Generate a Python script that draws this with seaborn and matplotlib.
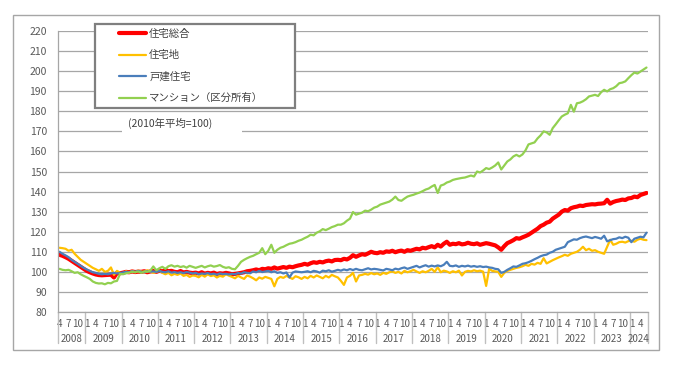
import numpy as np
import pandas as pd
import matplotlib
matplotlib.use('Agg')
import matplotlib.pyplot as plt
import matplotlib.transforms as mtransforms
from matplotlib.patches import Rectangle
from matplotlib.lines import Line2D
import seaborn as sns

# monthly index, Apr 2008 - Jun 2024 (2010 average = 100)
dates = pd.date_range('2008-04-01', '2024-06-01', freq='MS')

housing_total = [
    108.5, 108, 107.3, 106.5, 105.5, 104.5, 103.5, 102.5, 101.5,                    # 2008
    100.5, 99.8, 99.2, 98.7, 98.4, 98.3, 98.4, 98.5, 98.6, 97.2, 99.5, 99.3,        # 2009
    99.6, 100, 99.8, 100.2, 99.9, 100.1, 100, 100.3, 99.8, 100.2, 100.4, 100,       # 2010
    100.6, 100.2, 101, 100.3, 100.5, 100, 99.8, 100.4, 99.7, 100, 99.6, 99.4,       # 2011
    99.6, 99.2, 99.8, 99.1, 99.5, 99.2, 99.6, 98.9, 99.3, 99.1, 99.5, 99.2,         # 2012
    98.8, 99, 99.2, 99.5, 99.8, 100.3, 100.5, 100.8, 101.2, 100.8, 101.5, 101.3,    # 2013
    101.8, 101.5, 102.2, 101.6, 102, 102.4, 102, 102.6, 102.3, 102.8, 103.2, 103.5, # 2014
    104, 103.6, 104.3, 104.8, 104.5, 105, 104.7, 105.3, 105.6, 105.2, 105.9, 106,   # 2015
    105.8, 106.5, 106.2, 107, 108.3, 107.5, 108.2, 108.8, 108.5, 109.2, 110, 109.5, # 2016
    109.3, 109.8, 109.5, 110.2, 110, 110.5, 109.8, 110.3, 110.6, 110, 110.8, 110.5, # 2017
    111, 111.5, 111.2, 112, 111.7, 112.3, 112.8, 112.2, 113.5, 112.6, 114, 115,     # 2018
    113.5, 114, 113.8, 114.3, 113.7, 113.9, 114.5, 114, 113.8, 114.2, 113.5, 113.9, # 2019
    114.3, 114, 113.6, 113.2, 112.2, 111, 112.8, 114.3, 115, 115.8, 116.8, 116.5,   # 2020
    117.2, 117.8, 118.5, 119.5, 120.5, 121.5, 122.8, 123.5, 124.5, 125, 126.5, 127.5, # 2021
    128.5, 130, 130.8, 130.5, 131.7, 132.2, 132.5, 133, 132.8, 133.3, 133.5, 133.7, # 2022
    133.6, 133.9, 134, 134.2, 135.9, 134, 134.8, 135.3, 135.6, 136, 135.8, 136.6,   # 2023
    136.8, 137.5, 137.2, 138.3, 138.8, 139.3,                                       # 2024
]

residential_land = [
    112, 111.8, 111.5, 110.5, 111, 109, 107.5, 106, 105,
    104, 103, 102, 101.3, 100.5, 101.5, 100, 100.5, 102.2, 98.5, 100.5, 99.5,
    99.2, 100.3, 99.5, 100.5, 99.8, 100.6, 100.2, 99.6, 100.8, 100.1, 99.5, 100,
    100.6, 99.5, 98.8, 99.5, 98.3, 99, 98.5, 99.2, 98, 98.5, 97.5, 98.2,
    98, 97.3, 98.5, 97.6, 98.8, 97.9, 98.3, 97.2, 98, 97.6, 98.8, 98.1,
    97.5, 96.8, 98, 97.2, 96.5, 98.2, 97.6, 96.8, 95.8, 97.2, 96.6, 97.5,
    97, 96.5, 92.8, 96.5, 97.5, 97, 98, 97.2, 96.5, 97.8, 97.3, 96.5,
    97.5, 96.8, 98, 97.2, 98.2, 97.5, 96.8, 98, 97.2, 98.5, 97.8, 97.2,
    95.5, 93.5, 97.2, 98, 99.5, 95.2, 98.2, 98.5, 99, 98.6, 99.4, 98.8,
    99.2, 98.5, 99.5, 99, 99.8, 100.2, 99.5, 100, 99.2, 100.5, 99.8, 100.3,
    101, 100.2, 99.5, 100.3, 99.8, 100.5, 101.5, 100, 102.3, 99.8, 100.6, 100.2,
    99.5, 100.3, 99.8, 100.6, 98.2, 100, 100.5, 100.2, 100.8, 100.3, 100.6, 100.1,
    93, 101.5, 100.5, 100.2, 100, 97.5, 99.5, 100.5, 101, 101.5, 102, 102.3,
    102.8, 103.5, 103, 104, 103.6, 104.5, 104, 106.8, 104.2, 105, 105.8, 106.5,
    107.2, 107.8, 108.5, 108, 109, 109.5, 110, 111, 112.5, 110.8, 111.5, 110.5,
    110.8, 110, 109.5, 109, 112.5, 116, 113.5, 114, 114.8, 115, 114.6, 115.3,
    115.5, 115, 116, 116.5, 116, 115.8,
]

detached_house = [
    110, 109, 108.2, 107.3, 106, 105, 104, 103, 102,
    101.2, 100.5, 99.8, 99.5, 99, 98.8, 99, 98.8, 99.2, 99.5, 99.2, 99.4,
    99.7, 100, 99.8, 100.3, 100, 100.5, 100, 99.8, 100.3, 100.1, 100.2, 100,
    100.4, 100, 99.8, 100.3, 99.6, 99.9, 99.5, 99.8, 99.4, 99.9, 99.6, 99.2,
    99.5, 98.8, 99.2, 99, 99.4, 98.8, 99.1, 98.6, 99.2, 98.9, 99, 98.7,
    99, 98.8, 99.4, 99.1, 99.8, 99.5, 99.3, 100.2, 99.8, 100.5, 99.9, 100.2,
    100.5, 99.8, 100.3, 99.5, 99.8, 99.2, 99.7, 97.2, 99.6, 100.2, 100, 99.8,
    100, 100.3, 99.8, 100.5, 100.2, 99.6, 100.6, 100.3, 100.8, 100.1, 100.5, 101,
    100.6, 101.2, 100.8, 101.4, 100.9, 101.5, 101, 100.8, 101.3, 101.8, 101.2, 101.5,
    101.3, 101, 100.7, 101.5, 101.2, 100.8, 101.6, 101.2, 101.8, 102.2, 101.5, 102,
    102.5, 103, 102.2, 102.8, 103.3, 102.6, 103.1, 102.7, 103.2, 102.8, 103.5, 105,
    103, 102.8, 103.2, 102.5, 103, 102.7, 103.1, 102.6, 102.9, 102.5, 102.8, 102.4,
    102.6, 102.2, 102, 101.5, 101.3, 99.5, 100, 101, 101.8, 102.7, 102.5, 103.2,
    104, 104.3, 104.8, 105.5, 106.3, 107, 107.8, 108.3, 108.6, 109.5, 110, 111,
    111.5, 112, 112.5, 114.8, 115.5, 116.2, 116, 116.8, 117.3, 117.6, 117.2, 116.8,
    117.4, 117, 116.5, 118, 115.2, 115.8, 116.3, 116.5, 117.2, 116.8, 117.5, 117,
    114.8, 116.5, 117, 117.5, 117.2, 119.5,
]

condominium = [
    101.5, 101, 100.8, 101, 100.3, 99.5, 99.8, 98.8, 98,
    97.3, 96.5, 95.2, 94.5, 94.2, 94.3, 93.8, 94.5, 94.3, 95.2, 95.5, 99,
    98.8, 99.3, 99.6, 100, 99.8, 100.2, 99.5, 100.3, 100, 100.6, 102.7, 100.8,
    101.8, 102.5, 101.5, 102.8, 103.3, 102.6, 103, 102.4, 102.8, 102.1, 103, 102.5,
    102, 102.5, 103, 102.2, 102.8, 103.2, 102.6, 102.9, 103.4, 102.5, 102, 102.3,
    101.5, 101.3, 103, 105, 106, 106.8, 107.5, 108, 108.8, 109.5, 111.8, 108.8,
    110.5, 113.5, 109.5, 111, 112, 112.5, 113.3, 114, 114.3, 114.8, 115.5, 116,
    116.8, 117.5, 118.5, 118.2, 119.5, 120.2, 121.3, 120.8, 121.5, 122.3, 122.8, 123.5,
    123.5, 124.2, 125.5, 126.5, 129.8, 128.5, 129, 129.5, 130.5, 130.2, 131, 132,
    132.5, 133.5, 134, 134.5, 135, 136, 137.5, 135.8, 135.4, 136.5, 137.5, 138,
    138.4, 139, 139.5, 140.2, 141, 141.5, 142.5, 143.3, 139.3, 143, 143.5, 144.5,
    145, 145.8, 146.2, 146.5, 146.8, 147, 147.5, 148, 147.5, 150, 149.5, 150.5,
    151.7, 151.2, 152, 153, 154.5, 151, 153, 155, 156, 157.5, 158.3, 157.5,
    158.5, 160.5, 163.5, 164, 164.5, 166.5, 168, 170, 169.5, 168.3, 171.6, 173.5,
    175.5, 177.4, 178.3, 179, 183.2, 179.8, 184, 184.3, 185, 186, 187.4, 187.8,
    188.2, 187.6, 189.5, 190.7, 189.9, 191, 191.5, 192.5, 194, 194.3, 194.9, 196.5,
    198, 199.3, 198.8, 199.8, 200.8, 201.8,
]

series_names = ['住宅総合', '住宅地', '戸建住宅', 'マンション（区分所有）']
series_colors = ['#FF0000', '#FFC000', '#4A7EBB', '#92D050']
series_widths = [3.0, 1.6, 1.6, 1.6]

df = pd.DataFrame({
    't': np.arange(len(dates)),
    series_names[0]: housing_total,
    series_names[1]: residential_land,
    series_names[2]: detached_house,
    series_names[3]: condominium,
})
long_df = df.melt(id_vars='t', var_name='series', value_name='value')

sns.set_style('white')
plt.rcParams['font.family'] = ['Noto Sans CJK JP', 'DejaVu Sans']

text_col = '#595959'
grid_col = '#A6A6A6'

fig = plt.figure(figsize=(6.74, 3.80), dpi=100)
ax = fig.add_axes([58 / 674, 1 - 312 / 380, 590 / 674, 281 / 380])

for name, col, lw in zip(series_names, series_colors, series_widths):
    sns.lineplot(data=long_df[long_df['series'] == name], x='t', y='value',
                 color=col, linewidth=lw, ax=ax, errorbar=None, legend=False)

ax.set_ylim(80, 220)
ax.set_yticks(range(80, 221, 10))
ax.set_xlim(-0.5, len(dates) - 0.5)
ax.set_xlabel('')
ax.set_ylabel('')
ax.yaxis.grid(True, color=grid_col, linewidth=0.9)
ax.set_axisbelow(True)
for s in ['top', 'right']:
    ax.spines[s].set_visible(False)
for s in ['left', 'bottom']:
    ax.spines[s].set_color(grid_col)
    ax.spines[s].set_linewidth(0.9)

ax.tick_params(axis='y', labelsize=7.5, labelcolor=text_col, length=3,
               color=grid_col, pad=5)

# month labels (1, 4, 7, 10)
months = dates.month.values
years = dates.year.values
tick_pos = [i for i, m in enumerate(months) if m in (1, 4, 7, 10)]
tick_lab = [str(months[i]) for i in tick_pos]
ax.set_xticks(tick_pos, tick_lab)
ax.tick_params(axis='x', labelsize=7, labelcolor=text_col, length=0, pad=5)

# year groups
trans = mtransforms.blended_transform_factory(ax.transData, ax.transAxes)
bounds = [-0.5] + [i - 0.5 for i, m in enumerate(months) if m == 1] + [len(dates) - 0.5]
for b in bounds:
    ax.plot([b, b], [0, -0.112], transform=trans, color='#BFBFBF',
            linewidth=1, clip_on=False)
for y0 in sorted(set(years)):
    idx = np.where(years == y0)[0]
    ax.text((idx[0] + idx[-1]) / 2, -0.096, str(y0), transform=trans,
            ha='center', va='center', fontsize=7, color=text_col)

# base note with white background
ax.add_patch(Rectangle((0.1085, 0.633), 0.2034, 0.075, transform=ax.transAxes,
                       facecolor='white', edgecolor='none', zorder=1.5))
ax.text(0.1186, 0.6726, '(2010年平均=100)', transform=ax.transAxes,
        ha='left', va='center', fontsize=7.5, color='#404040', zorder=3)

# legend box
fig.add_artist(Rectangle((95 / 674, 1 - 108 / 380), 200 / 674, 84 / 380,
                         transform=fig.transFigure, facecolor='white',
                         edgecolor='#7F7F7F', linewidth=1.6, zorder=4))
handles = [Line2D([0], [0], color=c, linewidth=w)
           for c, w in zip(series_colors, series_widths)]
leg = fig.legend(handles, series_names, loc='upper left',
                 bbox_to_anchor=(119 / 674, 1 - 29 / 380),
                 bbox_transform=fig.transFigure, frameon=False,
                 borderpad=0, borderaxespad=0, handlelength=2.6,
                 handletextpad=0.3, labelspacing=1.08, fontsize=7.5)
leg.set_zorder(5)
for t in leg.get_texts():
    t.set_color('#404040')

# outer frame
fig.add_artist(Rectangle((13 / 674, 1 - 350 / 380), 646 / 674, 335 / 380,
                         transform=fig.transFigure, fill=False,
                         edgecolor='#A6A6A6', linewidth=1))

fig.savefig('out.png', dpi=100)
